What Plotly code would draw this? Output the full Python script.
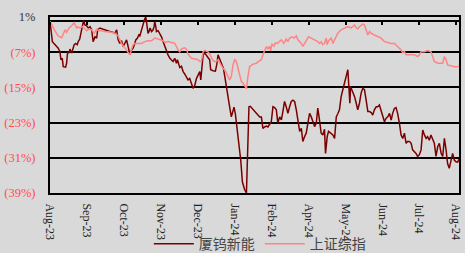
import plotly.graph_objects as go

# trading-day index (0 = start of Aug-23) and cumulative return in %
xw_days = [0.0, 1.4, 4.9, 5.9, 6.5, 7.3, 7.9, 9.3, 9.9, 10.5, 11.3, 11.9, 12.9, 13.9, 14.4, 15.3, 16.2, 16.8,
           17.7, 18.4, 19.2, 20.0, 20.8, 21.8, 22.8, 23.8, 24.8, 25.7, 26.8, 27.8, 28.4, 29.7, 31.7, 33.7,
           35.7, 37.6, 38.6, 39.7, 40.6, 41.6, 42.6, 43.6, 44.6, 45.6, 47.0, 47.6, 48.6, 49.5, 50.5, 51.1,
           52.1, 52.9, 53.5, 54.5, 55.5, 56.5, 57.1, 57.7, 58.4, 59.0, 59.6, 60.5, 61.4, 62.0, 62.4, 63.0,
           63.4, 64.4, 65.4, 66.4, 67.4, 68.4, 69.4, 70.3, 71.4, 72.4, 73.3, 74.3, 75.3, 75.9, 76.7, 77.3,
           78.3, 79.3, 80.3, 81.3, 82.2, 83.2, 84.3, 85.2, 86.2, 87.2, 88.2, 89.2, 89.8, 90.6, 91.2, 92.2,
           93.2, 94.1, 95.1, 95.7, 97.1, 98.5, 99.3, 100.1, 100.7, 101.7, 102.4, 103.3, 104.1, 105.1, 106.0,
           107.0, 108.0, 109.0, 109.6, 110.4, 111.0, 112.0, 113.0, 113.6, 114.6, 115.9, 117.0, 117.6, 117.9,
           118.5, 119.3, 120.9, 122.9, 124.9, 125.9, 126.8, 127.8, 128.9, 129.8, 130.8, 131.8, 132.8, 133.8,
           134.8, 135.7, 136.8, 137.8, 138.7, 139.7, 140.7, 141.7, 142.7, 143.7, 144.7, 145.7, 146.7, 147.6,
           148.7, 149.7, 150.6, 151.6, 152.6, 153.6, 154.6, 155.6, 156.6, 157.6, 158.6, 159.5, 160.5, 161.5,
           162.5, 163.5, 164.1, 165.1, 165.9, 167.5, 168.5, 169.5, 170.5, 171.4, 172.4, 173.4, 174.4, 175.4,
           176.4, 177.4, 178.0, 178.6, 179.0, 179.8, 180.6, 181.4, 182.4, 183.3, 184.3, 185.3, 186.3, 187.3,
           188.3, 189.3, 190.3, 191.3, 192.2, 193.2, 194.3, 195.2, 196.2, 197.2, 198.2, 199.2, 200.2, 201.2,
           202.2, 203.2, 204.1, 205.1, 206.1, 207.1, 208.1, 209.1, 210.1, 211.1, 212.1, 213.0, 214.1, 215.1,
           216.0, 217.0, 218.0, 219.0, 220.0, 221.0, 222.0, 223.0, 224.0, 224.9, 225.9, 226.9, 227.9, 228.9,
           229.9, 230.9, 231.9, 232.9, 233.9, 234.9, 235.9, 236.8, 237.8, 238.8, 239.8, 240.8, 241.8, 242.8,
           243.8]
xw_ret = [0, -4.6, -6.1, -6.9, -8.7, -8.4, -10.3, -10.4, -9.5, -6.9, -7.2, -6.3, -7.2, -6.1, -5.3, -5.0, -5.3, -4.6,
          -4.0, -2.7, -0.8, 0.2, -0.8, -1.0, -1.5, -1.2, -1.9, -4.6, -3.5, -3.8, -1.9, -1.5, -1.8, -2.1,
          -2.3, -2.5, -2.7, -1.9, -4.2, -5.0, -4.4, -5.7, -4.8, -4.2, -6.5, -7.6, -6.5, -6.1, -5.0, -4.2,
          -3.8, -3.1, -3.3, -1.9, -0.4, 0.7, 0.9, -0.8, -2.7, -2.3, -1.5, -2.3, -1.9, -1.2, 0, -1.2,
          -2.3, -2.1, -2.7, -3.5, -4.6, -5.7, -6.9, -7.6, -8.4, -8.7, -9.1, -8.4, -9.5, -8.7, -9.9, -10.5,
          -10.2, -11.4, -12.0, -12.7, -13.3, -13.0, -14.4, -15.2, -14.6, -13.0, -12.2, -11.4, -13.3, -9.1, -7.6, -7.2,
          -7.6, -8.2, -8.7, -11.0, -11.2, -11.3, -9.9, -7.6, -8.2, -9.1, -9.5, -10.7, -12.5, -15.2, -17.0,
          -19.4, -21.7, -20.5, -19.5, -21.0, -22.8, -25.4, -28.5, -31.5, -36.5, -38.2, -39.0, -32.0, -24.7,
          -19.4, -19.3, -20.0, -20.9, -21.7, -21.7, -24.3, -24.0, -23.8, -24.0, -23.5, -22.8, -19.4, -19.6,
          -20.1, -23.1, -21.7, -22.4, -20.5, -18.2, -19.4, -20.9, -19.4, -18.2, -17.9, -18.2, -20.1, -22.4,
          -25.0, -24.3, -27.3, -26.2, -25.4, -23.1, -20.9, -21.7, -22.8, -23.9, -23.1, -19.7, -22.4, -25.4,
          -25.8, -24.5, -30.0, -26.2, -25.0, -25.4, -25.8, -26.6, -21.7, -21.0, -20.1, -17.1, -15.8, -14.0,
          -12.5, -11.0, -14.8, -18.6, -14.8, -15.5, -16.2, -17.1, -18.6, -20.1, -18.6, -16.3, -15.2, -15.5,
          -17.9, -20.5, -20.5, -20.7, -21.3, -20.1, -19.4, -19.4, -19.0, -20.1, -21.7, -22.8, -22.0, -21.7,
          -20.9, -22.4, -20.9, -19.8, -19.6, -21.0, -23.1, -25.8, -26.6, -25.4, -27.7, -27.3, -27.3, -27.7,
          -29.2, -29.6, -30.0, -30.7, -30.3, -29.2, -24.7, -25.8, -26.6, -26.2, -27.0, -25.8, -26.6, -27.7,
          -30.7, -28.5, -27.7, -29.9, -30.7, -26.6, -29.2, -32.3, -33.4, -31.5, -30.0, -31.5, -31.9, -32.0,
          -31.1]

sh_days = [0.0, 1.4, 2.6, 4.0, 4.9, 5.9, 7.0, 7.9, 8.9, 9.9, 11.3, 12.9, 14.4, 15.9, 16.8, 17.8, 19.2, 20.4,
           21.8, 22.8, 24.8, 26.3, 27.8, 29.1, 30.7, 32.7, 35.7, 38.6, 40.6, 42.6, 44.6, 45.6, 46.6, 47.6,
           48.6, 49.5, 50.5, 52.5, 54.5, 56.5, 58.4, 60.5, 61.4, 62.4, 64.4, 66.4, 67.4, 68.4, 70.3, 72.4,
           74.3, 75.3, 76.3, 77.3, 78.3, 79.3, 80.3, 81.3, 82.2, 84.3, 86.2, 88.2, 89.2, 90.2, 91.2, 92.2,
           94.1, 95.1, 96.1, 97.1, 98.1, 99.1, 100.1, 101.1, 102.1, 103.0, 104.1, 105.1, 106.0, 107.0, 108.0,
           109.0, 110.0, 111.0, 112.0, 113.0, 114.0, 114.9, 115.9, 117.0, 117.9, 118.9, 120.9, 122.9, 124.9,
           125.9, 126.8, 127.8, 128.9, 129.8, 130.8, 131.4, 132.2, 133.4, 134.2, 135.4, 136.8, 137.8, 139.3,
           140.7, 141.7, 142.7, 144.1, 145.3, 146.7, 147.6, 148.7, 149.7, 150.6, 151.6, 152.6, 154.0, 155.6,
           157.6, 159.5, 160.5, 161.5, 162.5, 163.5, 164.5, 165.1, 165.9, 167.5, 168.5, 169.5, 170.5, 171.4,
           173.4, 175.4, 177.4, 179.4, 181.4, 182.4, 183.3, 184.3, 185.3, 186.3, 187.3, 188.3, 189.3, 190.3,
           191.3, 193.2, 195.2, 197.2, 198.2, 199.2, 201.2, 203.2, 205.1, 206.1, 207.1, 208.1, 209.1, 210.1,
           211.1, 212.1, 215.1, 217.0, 219.0, 220.0, 221.0, 223.0, 224.9, 226.9, 227.9, 228.9, 230.9, 233.9,
           234.9, 235.9, 236.8, 238.8, 240.8, 242.8, 243.8]
sh_ret = [0, -1.2, -1.9, -2.8, -3.3, -3.5, -3.7, -2.9, -1.9, -2.5, -1.5, -1.0, -0.3, -1.5, -1.2, -1.5, -1.2, -1.5,
          -2.1, -1.8, -1.9, -2.7, -1.8, -2.1, -2.1, -2.3, -2.4, -2.7, -3.3, -5.0, -6.0, -6.5, -7.2, -7.6,
          -6.3, -5.3, -5.0, -5.0, -5.0, -4.6, -4.4, -4.4, -4.0, -3.8, -4.0, -4.2, -4.4, -4.8, -4.6, -4.8,
          -5.0, -5.7, -6.5, -6.9, -6.3, -6.1, -6.0, -6.3, -7.4, -8.4, -8.6, -8.7, -9.1, -9.0, -6.9, -6.6,
          -6.9, -7.4, -8.2, -8.9, -9.1, -9.1, -8.7, -9.5, -10.3, -10.7, -11.0, -11.7, -12.5, -13.3, -12.5,
          -9.9, -8.7, -9.1, -10.7, -12.5, -13.7, -14.0, -14.8, -15.3, -12.5, -10.3, -9.7, -9.5, -8.9,
          -8.7, -7.6, -6.5, -5.7, -6.3, -5.6, -6.7, -5.2, -5.6, -4.9, -5.0, -4.6, -4.2, -5.0,
          -4.0, -4.6, -3.8, -3.5, -3.8, -3.3, -4.2, -4.6, -5.0, -5.7, -5.0, -4.2, -3.5, -3.8,
          -4.2, -4.6, -5.0, -4.6, -5.3, -5.0, -3.8, -5.3, -4.4, -3.8, -5.0, -4.2, -3.5, -2.7,
          -1.9, -1.5, -1.2, -1.5, -0.8, -1.5, -1.7, -1.2, -0.8, -0.6, -0.8, -2.0, -3.1, -2.3,
          -2.7, -3.1, -3.5, -3.8, -4.2, -4.6, -4.8, -5.0, -5.0, -5.3, -5.7, -6.1, -6.5, -7.1,
          -6.9, -7.6, -7.6, -7.6, -8.0, -7.6, -6.9, -6.9, -6.6, -6.9, -8.0, -9.1, -9.5, -9.5,
          -8.0, -8.7, -9.9, -10.1, -10.3, -10.3, -10.1]

tick_days = [0, 22, 44, 66, 88, 110, 132, 154, 176, 198, 220, 242]
tick_labels = ["Aug-23", "Sep-23", "Oct-23", "Nov-23", "Dec-23", "Jan-24", "Feb-24",
               "Apr-24", "May-24", "Jun-24", "Jul-24", "Aug-24"]
y_ticks = [1, -7, -15, -23, -31, -39]


def fmt(v):
    if v < 0:
        return f'<span style="color:#ff4d4d">({abs(v)}%)</span>'
    return f'{v}%'


y_labels = [fmt(v) for v in y_ticks]

fig = go.Figure()
fig.add_trace(go.Scatter(x=xw_days, y=xw_ret, mode="lines", name="厦钨新能",
                         line=dict(color="#7a0000", width=1.5)))
fig.add_trace(go.Scatter(x=sh_days, y=sh_ret, mode="lines", name="上证综指",
                         line=dict(color="#ff8585", width=1.5)))
# helper trace so the zero-line tick axis is drawn
fig.add_trace(go.Scatter(x=[tick_days[0]], y=[None], xaxis="x2", showlegend=False,
                         hoverinfo="skip", mode="lines"))

fig.update_layout(
    width=465, height=253,
    margin=dict(l=50, r=5.5, t=17, b=60, autoexpand=False),
    paper_bgcolor="#d9d9d9", plot_bgcolor="#d9d9d9",
    font=dict(family="Liberation Serif, Times New Roman, serif", size=12, color="#333333"),
    xaxis=dict(range=[0, 243.6], tickvals=tick_days, ticktext=tick_labels, tickangle=90,
               showgrid=False, zeroline=False, showline=True, linecolor="#000000", linewidth=2,
               mirror=True, ticks="", ticklabelstandoff=6, automargin=False,
               tickfont=dict(size=12, color="#222222")),
    xaxis2=dict(range=[0, 243.6], overlaying="x", anchor="free", position=1 - 1 / 40,
                tickvals=tick_days, showticklabels=False, ticks="outside", ticklen=3,
                tickcolor="#000000", tickwidth=1.5, showline=False, showgrid=False, zeroline=False),
    yaxis=dict(range=[-39, 1], tickvals=y_ticks, ticktext=y_labels, showgrid=True,
               gridcolor="#000000", gridwidth=1.5, zeroline=True, zerolinecolor="#000000",
               zerolinewidth=1.5, showline=True, linecolor="#000000", linewidth=2, mirror=True,
               ticks="", ticklabelstandoff=10, automargin=False,
               tickfont=dict(size=12.5, color="#333333")),
    legend=dict(orientation="h", x=0.513, xanchor="center", y=-0.29, yanchor="middle",
                bgcolor="rgba(0,0,0,0)", itemwidth=40,
                font=dict(family="Noto Sans CJK SC", size=14, color="#444444")),
    showlegend=True,
)

fig.write_html("out.html", config={"displayModeBar": False},
               post_script="document.body.style.margin='0px';")
